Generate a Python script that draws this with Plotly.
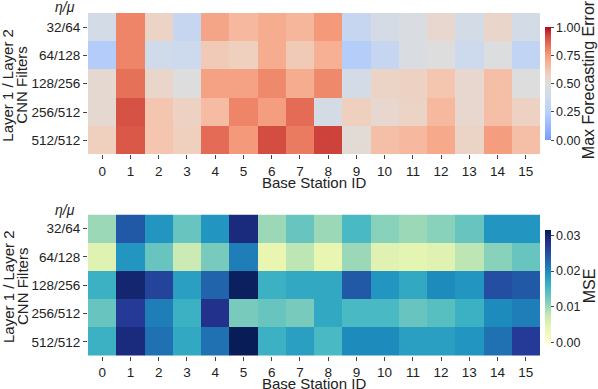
import plotly.graph_objects as go
from plotly.subplots import make_subplots

station_ids = [str(i) for i in range(16)]
filters = ["32/64", "64/128", "128/256", "256/512", "512/512"]

max_error = [
    [0.42, 0.80, 0.56, 0.33, 0.72, 0.66, 0.70, 0.67, 0.75, 0.33, 0.43, 0.47, 0.54, 0.42, 0.55, 0.42],
    [0.23, 0.80, 0.38, 0.37, 0.60, 0.58, 0.70, 0.60, 0.69, 0.24, 0.33, 0.47, 0.50, 0.37, 0.48, 0.30],
    [0.53, 0.84, 0.55, 0.50, 0.73, 0.73, 0.79, 0.70, 0.79, 0.42, 0.56, 0.57, 0.62, 0.54, 0.64, 0.50],
    [0.53, 0.90, 0.62, 0.57, 0.65, 0.80, 0.74, 0.85, 0.43, 0.58, 0.54, 0.56, 0.66, 0.54, 0.64, 0.57],
    [0.58, 0.89, 0.62, 0.58, 0.85, 0.75, 0.91, 0.82, 0.93, 0.52, 0.64, 0.66, 0.71, 0.56, 0.74, 0.64],
]

mse = [
    [0.010, 0.024, 0.019, 0.013, 0.019, 0.029, 0.010, 0.013, 0.010, 0.015, 0.011, 0.010, 0.011, 0.013, 0.019, 0.019],
    [0.005, 0.019, 0.013, 0.007, 0.012, 0.021, 0.004, 0.008, 0.004, 0.010, 0.005, 0.0045, 0.005, 0.008, 0.011, 0.013],
    [0.016, 0.030, 0.026, 0.018, 0.023, 0.031, 0.016, 0.017, 0.017, 0.024, 0.019, 0.017, 0.020, 0.019, 0.025, 0.024],
    [0.013, 0.027, 0.021, 0.016, 0.028, 0.012, 0.013, 0.012, 0.017, 0.015, 0.015, 0.013, 0.014, 0.016, 0.020, 0.021],
    [0.016, 0.029, 0.022, 0.017, 0.022, 0.033, 0.016, 0.018, 0.015, 0.020, 0.020, 0.018, 0.018, 0.019, 0.022, 0.027],
]

# coolwarm-like, with a lighter blue end
coolwarm = [
    [0.0, "rgb(121,156,248)"], [0.125, "rgb(152,185,255)"], [0.25, "rgb(184,208,249)"],
    [0.375, "rgb(206,218,236)"], [0.5, "rgb(221,221,221)"], [0.5625, "rgb(236,211,197)"],
    [0.625, "rgb(245,196,173)"], [0.6875, "rgb(247,177,148)"], [0.75, "rgb(244,154,123)"],
    [0.8125, "rgb(236,127,99)"], [0.875, "rgb(222,96,77)"], [0.9375, "rgb(203,62,56)"],
    [1.0, "rgb(180,4,38)"],
]
ylgnbu = [
    [0.0, "#ffffd9"], [0.125, "#edf8b1"], [0.25, "#c7e9b4"], [0.375, "#7fcdbb"],
    [0.5, "#41b6c4"], [0.625, "#1d91c0"], [0.75, "#225ea8"], [0.875, "#253494"],
    [1.0, "#081d58"],
]

font = "Arial, Liberation Sans, sans-serif"

fig = make_subplots(rows=2, cols=1, vertical_spacing=0.175)

fig.add_trace(go.Heatmap(
    z=max_error, x=station_ids, y=filters, colorscale=coolwarm, zmin=0, zmax=1,
    colorbar=dict(x=1.011, xanchor="left", xpad=0, ypad=0, y=0.794, len=0.329, thickness=6,
                  outlinewidth=0, ticks="outside", ticklen=3,
                  tickvals=[0, 0.25, 0.5, 0.75, 1.0], ticktext=["0.00", "0.25", "0.50", "0.75", "1.00"],
                  tickfont=dict(size=12.5, color="#222")),
), row=1, col=1)

fig.add_trace(go.Heatmap(
    z=mse, x=station_ids, y=filters, colorscale=ylgnbu, zmin=-0.0005, zmax=0.0315,
    colorbar=dict(x=1.011, xanchor="left", xpad=0, ypad=0, y=0.201, len=0.332, thickness=6,
                  outlinewidth=0, ticks="outside", ticklen=3,
                  tickvals=[0, 0.01, 0.02, 0.03], ticktext=["0.00", "0.01", "0.02", "0.03"],
                  tickfont=dict(size=12.5, color="#222")),
), row=2, col=1)

fig.update_xaxes(ticks="outside", ticklen=4, tickfont=dict(size=13.5), showgrid=False, automargin=False)
fig.update_yaxes(autorange="reversed", ticks="outside", ticklen=4, tickfont=dict(size=13.5),
                 showgrid=False, automargin=False)

# axis / colorbar titles and η/μ labels as annotations
for yc, xt, eta, cb_title, cb_y in [(0.791, 0.505, 1.0175, "Max Forecasting Error", 0.805),
                                    (0.204, -0.081, 0.4257, "MSE", 0.204)]:
    fig.add_annotation(text="Layer 1 / Layer 2", x=-0.177, y=yc, textangle=-90,
                       font=dict(size=15))
    fig.add_annotation(text="CNN Filters", x=-0.146, y=yc, textangle=-90,
                       font=dict(size=15))
    fig.add_annotation(text="Base Station ID", x=0.5, y=xt, font=dict(size=15))
    fig.add_annotation(text="<i>η/μ</i>", x=-0.051, y=eta, font=dict(size=14))
    fig.add_annotation(text=cb_title, x=1.109, y=cb_y, textangle=-90, font=dict(size=16))

fig.update_annotations(xref="paper", yref="paper", xanchor="center", yanchor="middle",
                       showarrow=False)

fig.update_layout(
    width=598, height=389,
    margin=dict(l=88, r=58, t=13, b=33, autoexpand=False),
    plot_bgcolor="white", paper_bgcolor="white",
    font=dict(family=font, color="#222"),
)

# drop the browser's default body margin so the figure fills the window
fig.write_html("out.html", config={"displayModeBar": False},
               post_script="document.body.style.margin='0';")
